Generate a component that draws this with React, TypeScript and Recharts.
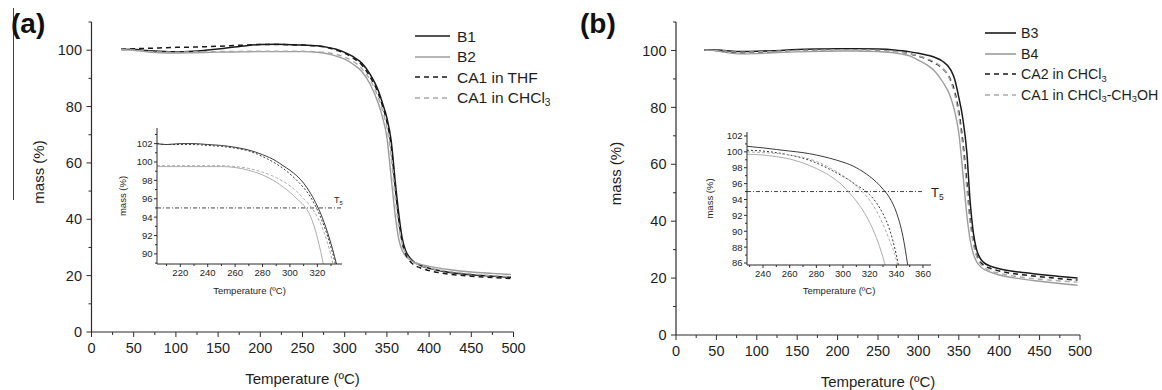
import type { ReactNode } from 'react'
import { LineChart, Line, XAxis, YAxis, ReferenceLine, Legend } from 'recharts'

const FONT = '"Liberation Sans", Arial, sans-serif'
const AXIS = '#2b2b2b'
const TEXT = '#1e1e1e'
const INK = '#1a1a1a'
const GREY = '#9c9c9c'
const GREY_DASH = '#a9a9a9'

// main TGA curves, both panels read at the same temperatures (°C)
const tempMain = [35, 50, 60, 80, 100, 120, 150, 180, 200, 220, 250, 270, 280, 290, 300, 310, 320, 330, 340, 345, 350, 355, 360, 364, 368, 372, 376, 380, 390, 400, 425, 450, 475, 497]

// panel (a)
const massB1 = [100.2, 100.3, 100.0, 99.6, 99.4, 99.6, 100.4, 101.5, 102.0, 102.1, 101.8, 101.5, 101.0, 100.3, 99.2, 97.7, 95.5, 91.5, 85.5, 81.0, 76.0, 68.0, 53.0, 42.0, 33.5, 29.0, 26.8, 25.4, 23.6, 22.6, 21.1, 20.3, 19.8, 19.4]
const massB2 = [100.2, 100.0, 99.6, 99.1, 99.0, 99.1, 99.3, 99.4, 99.5, 99.5, 99.5, 99.2, 98.7, 97.9, 96.8, 95.0, 92.5, 88.0, 81.0, 76.0, 69.0, 55.0, 41.0, 33.0, 29.0, 27.0, 25.9, 25.1, 24.0, 23.3, 22.1, 21.3, 20.8, 20.4]
const massCA1THF = [100.3, 100.5, 100.6, 100.8, 101.0, 101.1, 101.4, 101.8, 102.0, 102.0, 101.8, 101.4, 100.9, 100.0, 98.9, 97.2, 94.8, 90.6, 84.5, 80.0, 74.5, 66.0, 51.0, 40.0, 32.0, 27.8, 25.6, 24.3, 22.7, 21.8, 20.5, 19.8, 19.3, 19.0]
const massCA1CHCl3 = [100.2, 100.1, 99.8, 99.4, 99.3, 99.4, 99.5, 99.6, 99.6, 99.6, 99.6, 99.4, 99.1, 98.5, 97.5, 96.0, 93.6, 89.5, 83.0, 78.5, 72.5, 62.0, 47.0, 37.5, 31.5, 28.0, 26.2, 25.1, 23.6, 22.7, 21.4, 20.6, 20.0, 19.6]

// panel (b)
const massB3 = [100.2, 100.2, 100.0, 99.6, 99.7, 99.9, 100.3, 100.5, 100.6, 100.6, 100.5, 100.2, 99.9, 99.5, 99.0, 98.4, 97.6, 96.2, 93.2, 89.8, 83.5, 76.0, 64.0, 47.0, 36.0, 30.0, 27.2, 25.7, 24.1, 23.3, 22.1, 21.3, 20.6, 20.0]
const massB4 = [100.2, 99.9, 99.4, 98.8, 98.9, 99.2, 99.5, 99.7, 99.8, 99.8, 99.6, 99.2, 98.7, 98.0, 96.6, 95.0, 92.8, 89.0, 83.5, 78.5, 71.0, 57.0, 42.0, 33.5, 28.5, 25.8, 24.2, 23.3, 22.0, 21.1, 19.8, 18.9, 18.1, 17.5]
const massCA2 = [100.1, 100.0, 99.7, 99.3, 99.4, 99.7, 100.1, 100.3, 100.4, 100.4, 100.2, 99.8, 99.4, 98.8, 98.0, 97.0, 95.6, 93.6, 89.5, 85.5, 78.5, 68.0, 53.5, 41.0, 33.0, 28.3, 25.9, 24.7, 23.3, 22.5, 21.3, 20.5, 19.8, 19.3]
const massCA1Mix = [100.1, 100.0, 99.8, 99.4, 99.5, 99.7, 100.0, 100.2, 100.3, 100.3, 100.1, 99.7, 99.3, 98.8, 98.1, 97.2, 95.9, 93.8, 89.0, 84.5, 77.0, 66.0, 51.0, 39.5, 32.0, 27.7, 25.3, 24.0, 22.5, 21.7, 20.4, 19.6, 19.0, 18.6]

// inset (a)
const tempInsetA = [203, 210, 220, 230, 240, 250, 260, 270, 280, 290, 295, 300, 305, 310, 315, 320, 325, 330, 335]
const insetB1 = [102.0, 101.9, 102.0, 102.0, 101.9, 101.8, 101.6, 101.3, 100.8, 100.1, 99.6, 99.1, 98.5, 97.7, 96.6, 95.2, 93.4, 91.1, 88.3]
const insetCA1THF = [102.0, 101.9, 101.9, 101.9, 101.8, 101.7, 101.5, 101.2, 100.6, 99.8, 99.3, 98.7, 98.0, 97.2, 96.2, 94.8, 93.0, 90.7, 87.8]
const insetCA1CHCl3 = [99.6, 99.6, 99.6, 99.6, 99.6, 99.6, 99.5, 99.3, 98.9, 98.3, 97.9, 97.4, 96.8, 96.0, 95.2, 94.0, 92.3, 89.8, 86.5]
const insetB2 = [99.5, 99.5, 99.5, 99.5, 99.5, 99.5, 99.4, 99.1, 98.6, 97.8, 97.3, 96.7, 96.0, 95.3, 94.1, 91.8, 88.4, 84.0, null]

// inset (b)
const tempInsetB = [228, 240, 250, 260, 270, 280, 290, 300, 305, 310, 315, 320, 325, 330, 335, 340, 345, 350]
const insetB3 = [100.7, 100.5, 100.3, 100.1, 99.9, 99.6, 99.2, 98.7, 98.4, 98.0, 97.5, 96.9, 96.2, 95.3, 94.2, 92.4, 89.3, 84.0]
const insetB4 = [99.7, 99.6, 99.4, 99.1, 98.6, 97.9, 97.0, 95.7, 94.8, 93.8, 92.6, 91.1, 89.2, 86.7, 83.5, null, null, null]
const insetCA2 = [100.2, 100.1, 99.9, 99.6, 99.2, 98.6, 97.8, 96.9, 96.4, 95.8, 95.3, 94.6, 93.6, 92.2, 90.2, 87.0, 82.5, null]
const insetCA1Mix = [100.0, 99.9, 99.8, 99.6, 99.3, 98.8, 98.0, 97.0, 96.4, 95.7, 94.9, 93.9, 92.6, 90.9, 88.8, 86.4, 82.0, null]

// axis ticks
const mainXMajor = [0, 50, 100, 150, 200, 250, 300, 350, 400, 450, 500]
const mainXMinor = [25, 75, 125, 175, 225, 275, 325, 375, 425, 475]
const mainYMajor = [0, 20, 40, 60, 80, 100]
const mainYMinor = [10, 30, 50, 70, 90, 110]
const insetAXMajor = [220, 240, 260, 280, 300, 320]
const insetAXMinor = [210, 230, 250, 270, 290, 310, 330]
const insetAYMajor = [90, 92, 94, 96, 98, 100, 102]
const insetAYMinor = [89, 91, 93, 95, 97, 99, 101, 103]
const insetBXMajor = [240, 260, 280, 300, 320, 340, 360]
const insetBXMinor = [230, 250, 270, 290, 310, 330, 350]
const insetBYMajor = [86, 88, 90, 92, 94, 96, 98, 100, 102]
const insetBYMinor = [87, 89, 91, 93, 95, 97, 99, 101]

const T5_LEVEL = 95

const rowsOf = (t: number[], cols: Record<string, (number | null)[]>) =>
  t.map((v, i) => {
    const r: Record<string, number | null> = { t: v }
    for (const k in cols) r[k] = cols[k][i]
    return r
  })

const dataA = rowsOf(tempMain, { b1: massB1, b2: massB2, thf: massCA1THF, chcl3: massCA1CHCl3 })
const dataB = rowsOf(tempMain, { b3: massB3, b4: massB4, ca2: massCA2, ca1: massCA1Mix })
const dataInsetA = rowsOf(tempInsetA, { b1: insetB1, b2: insetB2, thf: insetCA1THF, chcl3: insetCA1CHCl3 })
const dataInsetB = rowsOf(tempInsetB, { b3: insetB3, b4: insetB4, ca2: insetCA2, ca1: insetCA1Mix })

const sortTicks = (a: number[], b: number[]) => [...a, ...b].sort((x, y) => x - y)

type TickOpts = { majors: number[]; major: number; minor: number; size: number; gap: number }

const xTick = (o: TickOpts) => (p: any) => {
  const { x, y, payload } = p
  const isMajor = o.majors.includes(payload.value)
  const len = isMajor ? o.major : o.minor
  return (
    <g>
      <line x1={x} y1={y} x2={x} y2={y + len} stroke={AXIS} strokeWidth={1} />
      {isMajor && (
        <text x={x} y={y + o.major + o.gap} dy="0.72em" textAnchor="middle" fontSize={o.size} fill={TEXT} fontFamily={FONT}>
          {payload.value}
        </text>
      )}
    </g>
  )
}

const yTick = (o: TickOpts) => (p: any) => {
  const { x, y, payload } = p
  const isMajor = o.majors.includes(payload.value)
  const len = isMajor ? o.major : o.minor
  return (
    <g>
      <line x1={x} y1={y} x2={x - len} y2={y} stroke={AXIS} strokeWidth={1} />
      {isMajor && (
        <text x={x - o.major - o.gap} y={y} dy="0.36em" textAnchor="end" fontSize={o.size} fill={TEXT} fontFamily={FONT}>
          {payload.value}
        </text>
      )}
    </g>
  )
}

const xTitle = (dy: number, size: number) => (p: any) => {
  const vb = p.viewBox
  return (
    <text x={vb.x + vb.width / 2} y={vb.y + dy} textAnchor="middle" fontSize={size} fill={TEXT} fontFamily={FONT}>
      Temperature (ºC)
    </text>
  )
}

const yTitle = (dx: number, dy: number, size: number) => (p: any) => {
  const vb = p.viewBox
  const cx = vb.x + dx
  const cy = vb.y + vb.height / 2 + dy
  return (
    <text x={cx} y={cy} dy="0.35em" textAnchor="middle" transform={`rotate(-90 ${cx} ${cy})`} fontSize={size} fill={TEXT} fontFamily={FONT}>
      mass (%)
    </text>
  )
}

const t5Label = (dx: number, dy: number, size: number) => (p: any) => {
  const vb = p.viewBox
  return (
    <text x={vb.x + vb.width + dx} y={vb.y + dy} fontSize={size} fill={TEXT} fontFamily={FONT}>
      T<tspan fontSize={size * 0.65} dy={size * 0.25}>5</tspan>
    </text>
  )
}

type Item = { key: string; label: ReactNode; color: string; dash?: string }
const sub = (s: string) => <span style={{ fontSize: '0.66em', position: 'relative', top: '0.3em' }}>{s}</span>

const legendA: Item[] = [
  { key: 'b1', label: 'B1', color: INK },
  { key: 'b2', label: 'B2', color: GREY },
  { key: 'thf', label: 'CA1 in THF', color: INK, dash: '5 4' },
  { key: 'chcl3', label: <>CA1 in CHCl{sub('3')}</>, color: GREY_DASH, dash: '5 4' },
]
const legendB: Item[] = [
  { key: 'b3', label: 'B3', color: INK },
  { key: 'b4', label: 'B4', color: GREY },
  { key: 'ca2', label: <>CA2 in CHCl{sub('3')}</>, color: INK, dash: '5 4' },
  { key: 'ca1', label: <>CA1 in CHCl{sub('3')}-CH{sub('3')}OH</>, color: GREY_DASH, dash: '5 4' },
]

function LegendBox({ items, lineW, gap, size }: { items: Item[]; lineW: number; gap: number; size: number }) {
  return (
    <div style={{ fontFamily: FONT, fontSize: size, color: TEXT, lineHeight: 1 }}>
      {items.map((it) => (
        <div key={it.key} style={{ display: 'flex', alignItems: 'center', height: 20.5 }}>
          <svg width={lineW} height={6} style={{ display: 'block' }}>
            <line x1={0} y1={3} x2={lineW} y2={3} stroke={it.color} strokeWidth={1.6} strokeDasharray={it.dash} />
          </svg>
          <span style={{ marginLeft: gap, whiteSpace: 'nowrap' }}>{it.label}</span>
        </div>
      ))}
    </div>
  )
}

const mainTickX = xTick({ majors: mainXMajor, major: 5, minor: 3, size: 14.5, gap: 6 })
const mainTickY = yTick({ majors: mainYMajor, major: 5, minor: 3, size: 14.5, gap: 4.5 })
const axisLine = { stroke: AXIS, strokeWidth: 1.2 }

function MainPanel(props: {
  data: Record<string, number | null>[]
  series: Item[]
  width: number
  margin: { top: number; right: number; bottom: number; left: number }
  legend: Item[]
  legendPos: { left: number; top: number }
  legendStyle: { lineW: number; gap: number; size: number }
  yTitleDx: number
}) {
  const { data, series, width, margin, legend, legendPos, legendStyle, yTitleDx } = props
  return (
    <LineChart width={width} height={390} data={data} margin={margin}>
      <XAxis
        dataKey="t"
        type="number"
        domain={[0, 500]}
        ticks={sortTicks(mainXMajor, mainXMinor)}
        interval={0}
        tickLine={false}
        tickSize={0}
        tickMargin={0}
        axisLine={axisLine}
        tick={mainTickX}
        height={30}
        label={{ content: xTitle(52, 15) }}
      />
      <YAxis
        type="number"
        domain={[0, 110]}
        ticks={sortTicks(mainYMajor, mainYMinor)}
        interval={0}
        tickLine={false}
        tickSize={0}
        tickMargin={0}
        axisLine={axisLine}
        tick={mainTickY}
        width={50}
        label={{ content: yTitle(yTitleDx, -5, 15) }}
      />
      {series.map((s) => (
        <Line
          key={s.key}
          dataKey={s.key}
          type="monotone"
          stroke={s.color}
          strokeWidth={s.color === INK ? 1.5 : 1.4}
          strokeDasharray={s.dash}
          dot={false}
          activeDot={false}
          isAnimationActive={false}
        />
      ))}
      <Legend
        layout="vertical"
        align="center"
        verticalAlign="middle"
        wrapperStyle={{ left: legendPos.left, top: legendPos.top, width: 'auto', height: 'auto' }}
        content={() => <LegendBox items={legend} {...legendStyle} />}
      />
    </LineChart>
  )
}

function InsetPanel(props: {
  data: Record<string, number | null>[]
  series: Item[]
  xDomain: [number, number]
  yDomain: [number, number]
  xMajor: number[]
  xMinor: number[]
  yMajor: number[]
  yMinor: number[]
  margin: { top: number; right: number; bottom: number; left: number }
  t5End: number
  t5: { dx: number; dy: number; size: number }
  yTitleDx: number
  xTitleDy: number
}) {
  const p = props
  return (
    <LineChart width={270} height={210} data={p.data} margin={p.margin}>
      <XAxis
        dataKey="t"
        type="number"
        domain={p.xDomain}
        allowDataOverflow
        ticks={sortTicks(p.xMajor, p.xMinor)}
        interval={0}
        tickLine={false}
        tickSize={0}
        tickMargin={0}
        axisLine={{ stroke: AXIS, strokeWidth: 1 }}
        tick={xTick({ majors: p.xMajor, major: 3, minor: 2, size: 9.5, gap: 2 })}
        height={20}
        label={{ content: xTitle(p.xTitleDy, 9.5) }}
      />
      <YAxis
        type="number"
        domain={p.yDomain}
        allowDataOverflow
        ticks={sortTicks(p.yMajor, p.yMinor)}
        interval={0}
        tickLine={false}
        tickSize={0}
        tickMargin={0}
        axisLine={{ stroke: AXIS, strokeWidth: 1 }}
        tick={yTick({ majors: p.yMajor, major: 3, minor: 2, size: 9.5, gap: 1.5 })}
        width={30}
        label={{ content: yTitle(p.yTitleDx, 0, 9.5) }}
      />
      <ReferenceLine
        segment={[
          { x: p.xDomain[0], y: T5_LEVEL },
          { x: p.t5End, y: T5_LEVEL },
        ]}
        stroke="#444"
        strokeWidth={1}
        strokeDasharray="4 2 1 2"
        label={t5Label(p.t5.dx, p.t5.dy, p.t5.size)}
      />
      {p.series.map((s) => (
        <Line
          key={s.key}
          dataKey={s.key}
          type="monotone"
          stroke={s.color === INK ? '#3a3a3a' : '#adadad'}
          strokeWidth={1}
          strokeDasharray={s.dash ? (s.color === INK ? '2 2' : '3 2') : undefined}
          dot={false}
          activeDot={false}
          isAnimationActive={false}
        />
      ))}
    </LineChart>
  )
}

const panelLabel = (text: string, left: number) => (
  <div style={{ position: 'absolute', left, top: 10, fontFamily: FONT, fontWeight: 700, fontSize: 28, lineHeight: 1, color: '#111' }}>
    {text}
  </div>
)

export default function App() {
  return (
    <div style={{ position: 'absolute', left: 0, top: 0, width: 1162, height: 390, background: '#fff', overflow: 'hidden', fontFamily: FONT }}>
      <div style={{ position: 'absolute', left: 0, top: 0 }}>
        <MainPanel
          data={dataA}
          series={legendA}
          width={580}
          margin={{ top: 22, right: 66.5, bottom: 28, left: 41.5 }}
          legend={legendA}
          legendPos={{ left: 415, top: 26 }}
          legendStyle={{ lineW: 35, gap: 7, size: 15.5 }}
          yTitleDx={-3}
        />
      </div>
      <div style={{ position: 'absolute', left: 580, top: 0 }}>
        <MainPanel
          data={dataB}
          series={legendB}
          width={582}
          margin={{ top: 22, right: 82, bottom: 25, left: 46 }}
          legend={legendB}
          legendPos={{ left: 405, top: 23 }}
          legendStyle={{ lineW: 31, gap: 5, size: 14.2 }}
          yTitleDx={-10}
        />
      </div>
      <div style={{ position: 'absolute', left: 100, top: 100 }}>
        <InsetPanel
          data={dataInsetA}
          series={legendA}
          xDomain={[203, 338]}
          yDomain={[88.9, 103.7]}
          xMajor={insetAXMajor}
          xMinor={insetAXMinor}
          yMajor={insetAYMajor}
          yMinor={insetAYMinor}
          margin={{ top: 28, right: 28, bottom: 26, left: 27 }}
          t5End={338}
          t5={{ dx: -8, dy: -5, size: 9 }}
          yTitleDx={-4}
          xTitleDy={29.5}
        />
      </div>
      <div style={{ position: 'absolute', left: 690, top: 100 }}>
        <InsetPanel
          data={dataInsetB}
          series={legendB}
          xDomain={[228, 366]}
          yDomain={[85.75, 102.5]}
          xMajor={insetBXMajor}
          xMinor={insetBXMinor}
          yMajor={insetBYMajor}
          yMinor={insetBYMinor}
          margin={{ top: 32, right: 29, bottom: 25, left: 27 }}
          t5End={360}
          t5={{ dx: 8, dy: 5, size: 13 }}
          yTitleDx={-7}
          xTitleDy={28.5}
        />
      </div>
      <div style={{ position: 'absolute', left: 13, top: 8, width: 1, height: 192, background: '#444' }} />
      {panelLabel('(a)', 11)}
      {panelLabel('(b)', 580)}
    </div>
  )
}
